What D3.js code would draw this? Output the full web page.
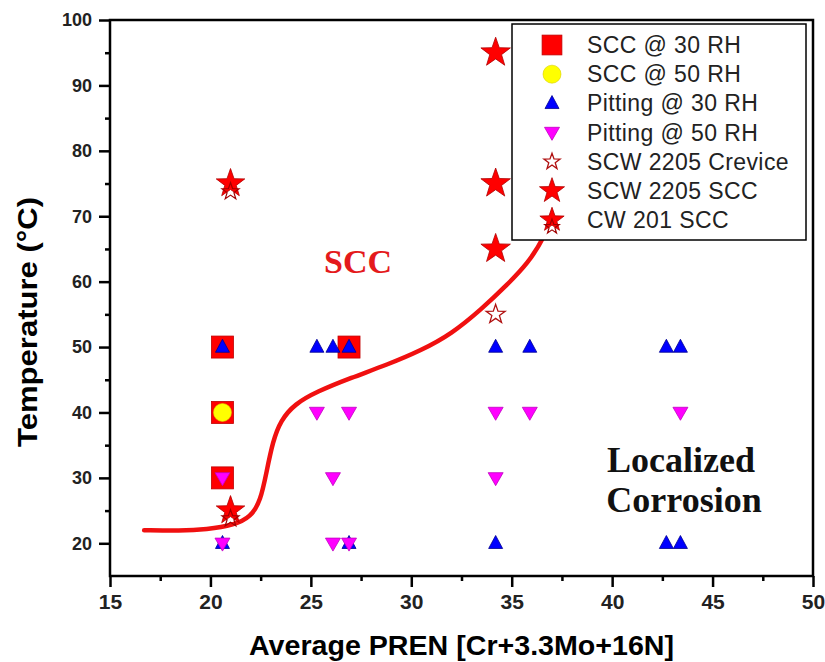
<!DOCTYPE html>
<html><head><meta charset="utf-8">
<script src="https://cdn.jsdelivr.net/npm/d3@7"></script>
<style>
html,body{margin:0;padding:0;background:#fff;}
svg{display:block;}
</style></head>
<body>
<svg id="chart" width="825" height="662"></svg>
<script>
// ---- data ----
const xTicks = [15,20,25,30,35,40,45,50];
const yTicks = [20,30,40,50,60,70,80,90,100];
const xMinor = [17.5,22.5,27.5,32.5,37.5,42.5,47.5];
const yMinor = [25,35,45,55,65,75,85,95];

const seriesNames = ["SCC @ 30 RH","SCC @ 50 RH","Pitting @ 30 RH","Pitting @ 50 RH","SCW 2205 Crevice","SCW 2205 SCC","CW 201 SCC"];

const sccRH30 = [[20.6,50],[20.6,40],[20.6,30],[26.9,50]];
const sccRH50 = [[20.6,40]];
const pitRH30 = [[20.6,50],[25.3,50],[26.1,50],[26.9,50],[34.2,50],[35.9,50],[42.7,50],[43.4,50],
                 [20.6,20],[26.9,20],[34.2,20],[42.7,20],[43.4,20]];
const pitRH50 = [[20.6,30],[25.3,40],[26.9,40],[26.1,30],[34.2,40],[35.9,40],[34.2,30],[43.4,40],
                 [20.6,20],[26.1,20],[26.9,20]];
const scwCrevice = [[34.2,55]];
const scwSCC = [[34.2,95],[34.2,75],[34.2,65]];
const cw201SCC = [[21.0,75],[21.0,25]];

// boundary curve (SCC / localized corrosion)
const boundaryX = [16.7,18.5,19.8,21.2,22.0,22.5,22.8,23.1,23.5,24.2,25.3,27.0,28.8,30.5,32.0,33.5,34.8,35.8,36.6,37.3];
const boundaryY = [22.0,21.9,22.1,22.8,24.0,26.5,31.0,35.5,38.8,41.3,43.2,45.3,47.3,49.5,52.0,55.8,59.6,62.8,66.6,72.0];

// ---- layout ----
const svg = d3.select("#chart");
const L = 110, R = 813, T = 20, B = 576;
const x = d3.scaleLinear().domain([15,50]).range([L,R]);
const y = d3.scaleLinear().domain([15,100]).range([B,T]);

// axes
const gx = svg.append("g").attr("transform",`translate(0,${B})`)
  .call(d3.axisBottom(x).tickValues(xTicks).tickSize(11).tickPadding(7).tickFormat(d3.format("d")));
gx.select(".domain").remove();
gx.selectAll("line").attr("stroke","#000").attr("stroke-width",2.5);
gx.selectAll("text").attr("font-family","Liberation Sans, Arial, sans-serif").attr("font-weight","bold")
  .attr("font-size",21).attr("fill","#222");
const gxm = svg.append("g").attr("transform",`translate(0,${B})`)
  .call(d3.axisBottom(x).tickValues(xMinor).tickSize(5).tickFormat(""));
gxm.select(".domain").remove();
gxm.selectAll("line").attr("stroke","#000").attr("stroke-width",2.5);

const gy = svg.append("g").attr("transform",`translate(${L},0)`)
  .call(d3.axisLeft(y).tickValues(yTicks).tickSize(11).tickPadding(7).tickFormat(d3.format("d")));
gy.select(".domain").remove();
gy.selectAll("line").attr("stroke","#000").attr("stroke-width",2.5);
gy.selectAll("text").attr("font-family","Liberation Sans, Arial, sans-serif").attr("font-weight","bold")
  .attr("font-size",18).attr("fill","#222");
const gym = svg.append("g").attr("transform",`translate(${L},0)`)
  .call(d3.axisLeft(y).tickValues(yMinor).tickSize(5).tickFormat(""));
gym.select(".domain").remove();
gym.selectAll("line").attr("stroke","#000").attr("stroke-width",2.5);

// frame
svg.append("rect").attr("x",L).attr("y",T).attr("width",R-L).attr("height",B-T)
  .attr("fill","none").attr("stroke","#000").attr("stroke-width",2.5);

// titles
svg.append("text").attr("x",(L+R)/2).attr("y",655).attr("text-anchor","middle")
  .attr("font-family","Liberation Sans, Arial, sans-serif").attr("font-weight","bold").attr("font-size",27)
  .attr("textLength",425).attr("lengthAdjust","spacingAndGlyphs")
  .text("Average PREN [Cr+3.3Mo+16N]");
svg.append("text").attr("transform","translate(37,322) rotate(-90)").attr("text-anchor","middle")
  .attr("font-family","Liberation Sans, Arial, sans-serif").attr("font-weight","bold").attr("font-size",27)
  .attr("textLength",250).attr("lengthAdjust","spacingAndGlyphs")
  .text("Temperature (°C)");

// region labels
svg.append("text").attr("x",358).attr("y",273).attr("text-anchor","middle")
  .attr("font-family","Liberation Serif, Times New Roman, serif").attr("font-weight","bold")
  .attr("font-size",34).attr("fill","#e41a1c").text("SCC");
const lc = svg.append("g").attr("font-family","Liberation Serif, Times New Roman, serif")
  .attr("font-weight","bold").attr("font-size",36).attr("fill","#111").attr("text-anchor","middle");
lc.append("text").attr("x",681).attr("y",472).text("Localized");
lc.append("text").attr("x",684).attr("y",512).text("Corrosion");

// boundary curve
const curvePts = boundaryX.map((v,i)=>[v,boundaryY[i]]);
svg.append("path").datum(curvePts)
  .attr("d",d3.line().x(d=>x(d[0])).y(d=>y(d[1])).curve(d3.curveBasis))
  .attr("fill","none").attr("stroke","#f01010").attr("stroke-width",4.5).attr("stroke-linecap","round");

// symbol painters
function starPath(Ro){
  const ri = Ro*0.40, pts=[];
  for(let k=0;k<10;k++){
    const a = -Math.PI/2 + k*Math.PI/5, r = k%2===0?Ro:ri;
    pts.push([r*Math.cos(a), r*Math.sin(a)]);
  }
  return "M"+pts.map(p=>p[0].toFixed(2)+","+p[1].toFixed(2)).join("L")+"Z";
}
function triPath(w,h,up){
  return up ? `M0,${-h*0.6}L${w/2},${h*0.4}L${-w/2},${h*0.4}Z`
            : `M0,${h*0.6}L${w/2},${-h*0.4}L${-w/2},${-h*0.4}Z`;
}
const painters = {
  sq:(g,s)=>g.append("rect").attr("x",-11*s).attr("y",-11*s).attr("width",22*s).attr("height",22*s)
        .attr("fill","#ff0000").attr("stroke","#c00000").attr("stroke-width",0.8),
  ci:(g,s)=>g.append("circle").attr("r",9*s).attr("fill","#ffff00").attr("stroke","#d8d000").attr("stroke-width",0.6),
  tu:(g,s)=>g.append("path").attr("d",triPath(14*s,13*s,true)).attr("fill","#0000ff").attr("stroke","#000090").attr("stroke-width",0.8),
  td:(g,s)=>g.append("path").attr("d",triPath(15*s,13*s,false)).attr("fill","#ff00ff").attr("stroke","#c000c0").attr("stroke-width",0.8),
  so:(g,s)=>g.append("path").attr("d",starPath(10*s)).attr("fill","none").attr("stroke","#b01010").attr("stroke-width",1.3),
  sf:(g,s)=>g.append("path").attr("d",starPath(15.5*s)).attr("fill","#ff0000").attr("stroke","#b00000").attr("stroke-width",0.8),
  sc:(g,s)=>{
    g.append("path").attr("d",starPath(15*s)).attr("fill","#ff0000").attr("stroke","#b00000").attr("stroke-width",0.8);
    g.append("path").attr("transform",`translate(0,${8*s})`).attr("d",starPath(9*s))
      .attr("fill","none").attr("stroke","#a00000").attr("stroke-width",1.2);
  }
};
const seriesData = [sccRH30, sccRH50, pitRH30, pitRH50, scwCrevice, scwSCC, cw201SCC];
const seriesKinds = ["sq","ci","tu","td","so","sf","sc"];

seriesData.forEach((data,i)=>{
  const g = svg.append("g").attr("class","series-"+i);
  g.selectAll("g").data(data).join("g")
    .attr("transform",d=>`translate(${x(d[0])},${y(d[1])})`)
    .each(function(){ painters[seriesKinds[i]](d3.select(this),1); });
});

// legend
const lg = svg.append("g");
lg.append("rect").attr("x",512).attr("y",24).attr("width",294).attr("height",216)
  .attr("fill","#fff").attr("stroke","#000").attr("stroke-width",1.5);
const rowY = d3.scaleLinear().domain([0,6]).range([45,220]);
seriesNames.forEach((name,i)=>{
  const s = lg.append("g").attr("transform",`translate(552,${rowY(i)})`);
  painters[seriesKinds[i]](s, seriesKinds[i]==="sq"?0.9:(seriesKinds[i][0]==="s"?0.85:1));
  lg.append("text").attr("x",587).attr("y",rowY(i)+8)
    .attr("font-family","Liberation Sans, Arial, sans-serif").attr("font-size",23)
    .attr("letter-spacing",0.4).attr("fill","#222")
    .text(name);
});
</script>
</body></html>
